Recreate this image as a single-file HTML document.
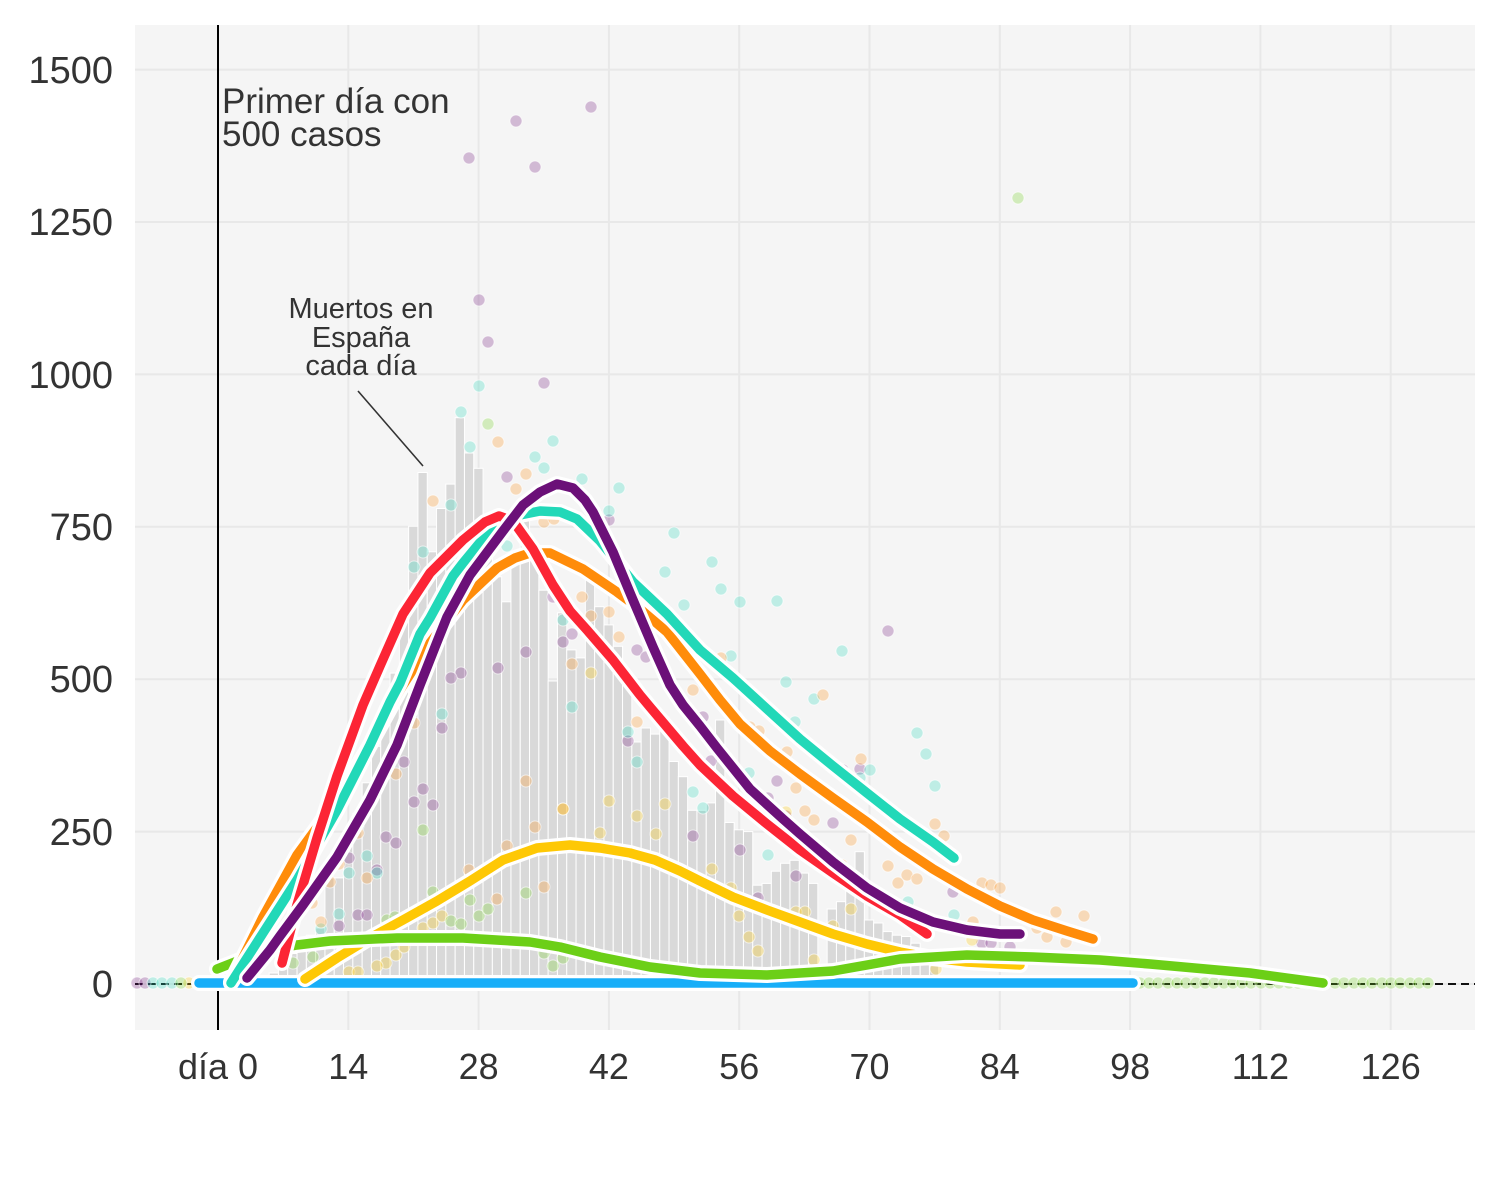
<!DOCTYPE html>
<html><head><meta charset="utf-8"><style>
html,body{margin:0;padding:0;background:#fff;}
svg{display:block;}
text{font-family:"Liberation Sans",sans-serif;fill:#333;}
</style></head><body>
<svg width="1500" height="1200" viewBox="0 0 1500 1200" xmlns="http://www.w3.org/2000/svg">
<defs>
<polyline id="lb" points="199,983 1133,983"/>
<polyline id="ly" points="305,979 337,958 370,938 403,920 437,901 470,881 503,860 537,848 570,845 600,848 630,853 655,860 680,871 700,881 733,897 767,910 800,922 833,934 867,944 900,952 933,958 967,962 1020,965"/>
<polyline id="lg" points="217,969 263,951 297,945 330,941 397,938 463,938 530,942 560,947 600,957 650,967 700,973 767,975 833,971 867,965 900,959 967,955 1033,957 1100,960 1150,964 1250,973 1323,983"/>
<polyline id="lo" points="231,982 263,917 297,855 337,800 370,745 400,690 430,643 463,600 497,568 515,558 530,553 550,553 583,569 617,592 640,609 667,632 700,674 720,700 740,724 770,751 800,774 833,798 867,822 900,847 933,869 967,889 1000,906 1033,920 1067,931 1093,939"/>
<polyline id="lt" points="231,983 263,933 297,880 337,810 370,745 390,702 400,683 420,634 430,618 453,576 463,563 487,534 500,524 520,515 540,511 560,512 577,519 600,541 617,562 633,582 667,614 700,650 733,678 767,709 800,739 833,766 867,793 900,819 933,842 954,858"/>
<polyline id="lr" points="282,963 297,905 317,838 337,776 363,705 380,666 403,614 430,573 463,540 485,522 499,516 513,521 533,549 553,585 570,611 587,630 613,660 640,695 650,707 683,746 700,765 733,796 767,824 800,850 833,873 867,896 900,915 927,934"/>
<polyline id="lp" points="247,978 270,950 280,936 303,905 337,857 370,800 397,745 420,685 437,642 447,617 470,575 503,531 523,505 540,492 557,484 573,488 585,500 593,512 613,552 633,600 653,647 670,685 683,705 700,726 717,748 750,789 783,819 800,834 833,862 867,888 900,908 933,922 967,930 1000,934 1020,934"/>
</defs>
<rect width="1500" height="1200" fill="#fff"/>
<rect x="135" y="25" width="1340" height="1005" fill="#f5f5f5"/>
<g stroke="#e8e8e8" stroke-width="2">
<line x1="135" x2="1475" y1="69.6" y2="69.6"/><line x1="135" x2="1475" y1="222" y2="222"/><line x1="135" x2="1475" y1="374.4" y2="374.4"/><line x1="135" x2="1475" y1="526.8" y2="526.8"/><line x1="135" x2="1475" y1="679.2" y2="679.2"/><line x1="135" x2="1475" y1="831.6" y2="831.6"/><line x1="135" x2="1475" y1="984" y2="984"/>
<line y1="25" y2="1030" x1="348.3" x2="348.3"/><line y1="25" y2="1030" x1="478.6" x2="478.6"/><line y1="25" y2="1030" x1="608.9" x2="608.9"/><line y1="25" y2="1030" x1="739.2" x2="739.2"/><line y1="25" y2="1030" x1="869.5" x2="869.5"/><line y1="25" y2="1030" x1="999.8" x2="999.8"/><line y1="25" y2="1030" x1="1130.1" x2="1130.1"/><line y1="25" y2="1030" x1="1260.4" x2="1260.4"/><line y1="25" y2="1030" x1="1390.7" x2="1390.7"/>
</g>
<g fill="#d9d9d9" stroke="#fff" stroke-width="1">
<rect x="241.25" y="981" width="9.3" height="3"/>
<rect x="250.55" y="979.1" width="9.3" height="4.9"/>
<rect x="259.85" y="976.7" width="9.3" height="7.3"/>
<rect x="269.15" y="973" width="9.3" height="11"/>
<rect x="278.45" y="965.7" width="9.3" height="18.3"/>
<rect x="287.75" y="953.5" width="9.3" height="30.5"/>
<rect x="297.05" y="940.1" width="9.3" height="43.9"/>
<rect x="306.35" y="935.2" width="9.3" height="48.8"/>
<rect x="315.65" y="927.9" width="9.3" height="56.1"/>
<rect x="324.95" y="877.9" width="9.3" height="106.1"/>
<rect x="334.25" y="877.9" width="9.3" height="106.1"/>
<rect x="343.55" y="844.4" width="9.3" height="139.6"/>
<rect x="352.85" y="813.3" width="9.3" height="170.7"/>
<rect x="362.15" y="782.8" width="9.3" height="201.2"/>
<rect x="371.45" y="746.3" width="9.3" height="237.7"/>
<rect x="380.75" y="709.7" width="9.3" height="274.3"/>
<rect x="390.05" y="673.1" width="9.3" height="310.9"/>
<rect x="399.35" y="618.2" width="9.3" height="365.8"/>
<rect x="408.65" y="526.2" width="9.3" height="457.8"/>
<rect x="417.95" y="472.5" width="9.3" height="511.5"/>
<rect x="427.25" y="551.8" width="9.3" height="432.2"/>
<rect x="436.55" y="508.5" width="9.3" height="475.5"/>
<rect x="445.85" y="484.1" width="9.3" height="499.9"/>
<rect x="455.15" y="417.7" width="9.3" height="566.3"/>
<rect x="464.45" y="453" width="9.3" height="531"/>
<rect x="473.75" y="468.3" width="9.3" height="515.7"/>
<rect x="483.05" y="551.8" width="9.3" height="432.2"/>
<rect x="492.35" y="576.8" width="9.3" height="407.2"/>
<rect x="501.65" y="601.8" width="9.3" height="382.2"/>
<rect x="510.95" y="557.3" width="9.3" height="426.7"/>
<rect x="520.25" y="520.1" width="9.3" height="463.9"/>
<rect x="529.55" y="545.1" width="9.3" height="438.9"/>
<rect x="538.85" y="590.2" width="9.3" height="393.8"/>
<rect x="548.15" y="681" width="9.3" height="303"/>
<rect x="557.45" y="612.8" width="9.3" height="371.2"/>
<rect x="566.75" y="649.9" width="9.3" height="334.1"/>
<rect x="576.05" y="657.9" width="9.3" height="326.1"/>
<rect x="585.35" y="568.9" width="9.3" height="415.1"/>
<rect x="594.65" y="606.7" width="9.3" height="377.3"/>
<rect x="603.95" y="624.9" width="9.3" height="359.1"/>
<rect x="613.25" y="646.3" width="9.3" height="337.7"/>
<rect x="622.55" y="679.2" width="9.3" height="304.8"/>
<rect x="631.85" y="742" width="9.3" height="242"/>
<rect x="641.15" y="728" width="9.3" height="256"/>
<rect x="650.45" y="734.1" width="9.3" height="249.9"/>
<rect x="659.75" y="717" width="9.3" height="267"/>
<rect x="669.05" y="761.5" width="9.3" height="222.5"/>
<rect x="678.35" y="776.7" width="9.3" height="207.3"/>
<rect x="687.65" y="810.3" width="9.3" height="173.7"/>
<rect x="696.95" y="810.3" width="9.3" height="173.7"/>
<rect x="706.25" y="802.9" width="9.3" height="181.1"/>
<rect x="715.55" y="720" width="9.3" height="264"/>
<rect x="724.85" y="822.5" width="9.3" height="161.5"/>
<rect x="734.15" y="829.8" width="9.3" height="154.2"/>
<rect x="743.45" y="831.6" width="9.3" height="152.4"/>
<rect x="752.75" y="885.2" width="9.3" height="98.8"/>
<rect x="762.05" y="883.4" width="9.3" height="100.6"/>
<rect x="771.35" y="871.2" width="9.3" height="112.8"/>
<rect x="780.65" y="863.3" width="9.3" height="120.7"/>
<rect x="789.95" y="860.3" width="9.3" height="123.7"/>
<rect x="799.25" y="873.1" width="9.3" height="110.9"/>
<rect x="808.55" y="883.4" width="9.3" height="100.6"/>
<rect x="817.85" y="971.8" width="9.3" height="12.2"/>
<rect x="827.15" y="909" width="9.3" height="75"/>
<rect x="836.45" y="901.7" width="9.3" height="82.3"/>
<rect x="845.75" y="873.1" width="9.3" height="110.9"/>
<rect x="855.05" y="851.7" width="9.3" height="132.3"/>
<rect x="864.35" y="920" width="9.3" height="64"/>
<rect x="873.65" y="923" width="9.3" height="61"/>
<rect x="882.95" y="931.6" width="9.3" height="52.4"/>
<rect x="892.25" y="935.2" width="9.3" height="48.8"/>
<rect x="901.55" y="936.5" width="9.3" height="47.5"/>
<rect x="910.85" y="943.2" width="9.3" height="40.8"/>
<rect x="920.15" y="950.5" width="9.3" height="33.5"/>
<rect x="929.45" y="965.7" width="9.3" height="18.3"/>
</g>
<line x1="135" x2="1475" y1="984" y2="984" stroke="#111" stroke-width="2" stroke-dasharray="8 5"/>
<line x1="218" x2="218" y1="25" y2="1030" stroke="#000" stroke-width="2"/>
<g stroke="#fff" stroke-width="1" stroke-opacity="0.6">
<g fill="#6b1078" fill-opacity="0.26">
<circle cx="591" cy="107" r="6"/><circle cx="516" cy="121" r="6"/><circle cx="535" cy="167" r="6"/><circle cx="469" cy="158" r="6"/><circle cx="479" cy="300" r="6"/><circle cx="488" cy="342" r="6"/><circle cx="544" cy="383" r="6"/><circle cx="507" cy="477" r="6"/><circle cx="609" cy="520" r="6"/><circle cx="553" cy="597" r="6"/><circle cx="563" cy="642" r="6"/><circle cx="572" cy="634" r="6"/><circle cx="526" cy="652" r="6"/><circle cx="498" cy="668" r="6"/><circle cx="461" cy="673" r="6"/><circle cx="451" cy="678" r="6"/><circle cx="637" cy="650" r="6"/><circle cx="646" cy="657" r="6"/><circle cx="628" cy="741" r="6"/><circle cx="703" cy="717" r="6"/><circle cx="711" cy="761" r="6"/><circle cx="768" cy="798" r="6"/><circle cx="777" cy="781" r="6"/><circle cx="786" cy="816" r="6"/><circle cx="805" cy="836" r="6"/><circle cx="833" cy="823" r="6"/><circle cx="843" cy="770" r="6"/><circle cx="860" cy="769" r="6"/><circle cx="693" cy="836" r="6"/><circle cx="740" cy="850" r="6"/><circle cx="796" cy="876" r="6"/><circle cx="758" cy="898" r="6"/><circle cx="953" cy="892" r="6"/><circle cx="982" cy="943" r="6"/><circle cx="991" cy="943" r="6"/><circle cx="1010" cy="947" r="6"/><circle cx="888" cy="631" r="6"/><circle cx="404" cy="762" r="6"/><circle cx="423" cy="789" r="6"/><circle cx="414" cy="802" r="6"/><circle cx="433" cy="805" r="6"/><circle cx="386" cy="837" r="6"/><circle cx="396" cy="843" r="6"/><circle cx="349" cy="858" r="6"/><circle cx="377" cy="870" r="6"/><circle cx="339" cy="926" r="6"/><circle cx="358" cy="915" r="6"/><circle cx="367" cy="915" r="6"/><circle cx="442" cy="728" r="6"/><circle cx="137" cy="983" r="6"/><circle cx="145" cy="983" r="6"/>
</g>
<g fill="#22d8b8" fill-opacity="0.26">
<circle cx="461" cy="412" r="6"/><circle cx="470" cy="447" r="6"/><circle cx="479" cy="386" r="6"/><circle cx="553" cy="441" r="6"/><circle cx="535" cy="457" r="6"/><circle cx="544" cy="468" r="6"/><circle cx="582" cy="479" r="6"/><circle cx="619" cy="488" r="6"/><circle cx="609" cy="511" r="6"/><circle cx="507" cy="546" r="6"/><circle cx="674" cy="533" r="6"/><circle cx="665" cy="572" r="6"/><circle cx="712" cy="562" r="6"/><circle cx="721" cy="589" r="6"/><circle cx="684" cy="605" r="6"/><circle cx="740" cy="602" r="6"/><circle cx="777" cy="601" r="6"/><circle cx="563" cy="620" r="6"/><circle cx="786" cy="682" r="6"/><circle cx="731" cy="656" r="6"/><circle cx="842" cy="651" r="6"/><circle cx="814" cy="699" r="6"/><circle cx="795" cy="722" r="6"/><circle cx="572" cy="707" r="6"/><circle cx="628" cy="732" r="6"/><circle cx="637" cy="762" r="6"/><circle cx="749" cy="773" r="6"/><circle cx="693" cy="792" r="6"/><circle cx="703" cy="808" r="6"/><circle cx="860" cy="778" r="6"/><circle cx="870" cy="770" r="6"/><circle cx="917" cy="733" r="6"/><circle cx="926" cy="754" r="6"/><circle cx="935" cy="786" r="6"/><circle cx="908" cy="902" r="6"/><circle cx="954" cy="915" r="6"/><circle cx="768" cy="855" r="6"/><circle cx="451" cy="505" r="6"/><circle cx="423" cy="552" r="6"/><circle cx="414" cy="567" r="6"/><circle cx="442" cy="714" r="6"/><circle cx="358" cy="826" r="6"/><circle cx="367" cy="856" r="6"/><circle cx="349" cy="873" r="6"/><circle cx="377" cy="873" r="6"/><circle cx="339" cy="914" r="6"/><circle cx="321" cy="929" r="6"/><circle cx="153" cy="983" r="6"/><circle cx="162" cy="983" r="6"/><circle cx="172" cy="983" r="6"/>
</g>
<g fill="#ff8c0a" fill-opacity="0.26">
<circle cx="498" cy="442" r="6"/><circle cx="433" cy="501" r="6"/><circle cx="526" cy="474" r="6"/><circle cx="516" cy="489" r="6"/><circle cx="544" cy="522" r="6"/><circle cx="554" cy="519" r="6"/><circle cx="582" cy="597" r="6"/><circle cx="591" cy="616" r="6"/><circle cx="609" cy="612" r="6"/><circle cx="619" cy="637" r="6"/><circle cx="683" cy="633" r="6"/><circle cx="721" cy="658" r="6"/><circle cx="572" cy="664" r="6"/><circle cx="693" cy="690" r="6"/><circle cx="637" cy="722" r="6"/><circle cx="750" cy="727" r="6"/><circle cx="759" cy="731" r="6"/><circle cx="787" cy="752" r="6"/><circle cx="823" cy="695" r="6"/><circle cx="861" cy="759" r="6"/><circle cx="796" cy="788" r="6"/><circle cx="805" cy="811" r="6"/><circle cx="814" cy="820" r="6"/><circle cx="851" cy="840" r="6"/><circle cx="842" cy="865" r="6"/><circle cx="888" cy="866" r="6"/><circle cx="898" cy="883" r="6"/><circle cx="907" cy="875" r="6"/><circle cx="917" cy="879" r="6"/><circle cx="935" cy="824" r="6"/><circle cx="944" cy="836" r="6"/><circle cx="973" cy="922" r="6"/><circle cx="982" cy="883" r="6"/><circle cx="991" cy="885" r="6"/><circle cx="1000" cy="888" r="6"/><circle cx="1037" cy="928" r="6"/><circle cx="1047" cy="937" r="6"/><circle cx="1056" cy="912" r="6"/><circle cx="1066" cy="942" r="6"/><circle cx="1084" cy="916" r="6"/><circle cx="414" cy="723" r="6"/><circle cx="396" cy="774" r="6"/><circle cx="358" cy="833" r="6"/><circle cx="339" cy="864" r="6"/><circle cx="330" cy="882" r="6"/><circle cx="367" cy="878" r="6"/><circle cx="312" cy="903" r="6"/><circle cx="526" cy="781" r="6"/><circle cx="535" cy="827" r="6"/><circle cx="507" cy="846" r="6"/><circle cx="563" cy="809" r="6"/><circle cx="469" cy="870" r="6"/><circle cx="497" cy="899" r="6"/><circle cx="544" cy="887" r="6"/><circle cx="321" cy="922" r="6"/>
</g>
<g fill="#fec805" fill-opacity="0.28">
<circle cx="591" cy="673" r="6"/><circle cx="563" cy="809" r="6"/><circle cx="609" cy="801" r="6"/><circle cx="637" cy="816" r="6"/><circle cx="665" cy="804" r="6"/><circle cx="656" cy="834" r="6"/><circle cx="600" cy="833" r="6"/><circle cx="786" cy="812" r="6"/><circle cx="712" cy="869" r="6"/><circle cx="731" cy="888" r="6"/><circle cx="739" cy="916" r="6"/><circle cx="749" cy="937" r="6"/><circle cx="758" cy="951" r="6"/><circle cx="796" cy="912" r="6"/><circle cx="805" cy="912" r="6"/><circle cx="814" cy="960" r="6"/><circle cx="833" cy="926" r="6"/><circle cx="851" cy="909" r="6"/><circle cx="972" cy="940" r="6"/><circle cx="936" cy="969" r="6"/><circle cx="423" cy="928" r="6"/><circle cx="433" cy="923" r="6"/><circle cx="442" cy="916" r="6"/><circle cx="396" cy="955" r="6"/><circle cx="386" cy="963" r="6"/><circle cx="377" cy="966" r="6"/><circle cx="349" cy="972" r="6"/><circle cx="358" cy="972" r="6"/><circle cx="404" cy="947" r="6"/><circle cx="189" cy="983" r="6"/>
</g>
<g fill="#6ccf17" fill-opacity="0.26">
<circle cx="488" cy="424" r="6"/><circle cx="1018" cy="198" r="6"/><circle cx="423" cy="830" r="6"/><circle cx="433" cy="892" r="6"/><circle cx="470" cy="900" r="6"/><circle cx="479" cy="916" r="6"/><circle cx="488" cy="909" r="6"/><circle cx="451" cy="921" r="6"/><circle cx="461" cy="924" r="6"/><circle cx="526" cy="893" r="6"/><circle cx="544" cy="953" r="6"/><circle cx="553" cy="966" r="6"/><circle cx="563" cy="958" r="6"/><circle cx="387" cy="920" r="6"/><circle cx="395" cy="917" r="6"/><circle cx="293" cy="963" r="6"/><circle cx="313" cy="957" r="6"/><circle cx="181" cy="983" r="6"/>
<circle cx="1140" cy="983" r="6"/><circle cx="1149" cy="983" r="6"/><circle cx="1158" cy="983" r="6"/><circle cx="1168" cy="983" r="6"/><circle cx="1177" cy="983" r="6"/><circle cx="1186" cy="983" r="6"/><circle cx="1196" cy="983" r="6"/><circle cx="1205" cy="983" r="6"/><circle cx="1214" cy="983" r="6"/><circle cx="1224" cy="983" r="6"/><circle cx="1233" cy="983" r="6"/><circle cx="1242" cy="983" r="6"/><circle cx="1251" cy="983" r="6"/><circle cx="1261" cy="983" r="6"/><circle cx="1270" cy="983" r="6"/><circle cx="1279" cy="983" r="6"/><circle cx="1289" cy="983" r="6"/><circle cx="1298" cy="983" r="6"/><circle cx="1307" cy="983" r="6"/><circle cx="1317" cy="983" r="6"/><circle cx="1335" cy="983" r="6"/><circle cx="1344" cy="983" r="6"/><circle cx="1354" cy="983" r="6"/><circle cx="1363" cy="983" r="6"/><circle cx="1372" cy="983" r="6"/><circle cx="1382" cy="983" r="6"/><circle cx="1391" cy="983" r="6"/><circle cx="1400" cy="983" r="6"/><circle cx="1410" cy="983" r="6"/><circle cx="1419" cy="983" r="6"/><circle cx="1428" cy="983" r="6"/>
</g>
</g>
<g fill="none" stroke-linecap="round" stroke-linejoin="round">
<use href="#lb" stroke="#fff" stroke-width="16"/><use href="#lb" stroke="#18aef8" stroke-width="9.5"/>
<use href="#ly" stroke="#fff" stroke-width="16"/><use href="#ly" stroke="#fec805" stroke-width="9.5"/>
<use href="#lg" stroke="#fff" stroke-width="16"/><use href="#lg" stroke="#6ccf17" stroke-width="9.5"/>
<use href="#lo" stroke="#fff" stroke-width="16"/><use href="#lo" stroke="#ff8c0a" stroke-width="9.5"/>
<use href="#lt" stroke="#fff" stroke-width="16"/><use href="#lt" stroke="#22d8b8" stroke-width="9.5"/>
<use href="#lr" stroke="#fff" stroke-width="16"/><use href="#lr" stroke="#fc2535" stroke-width="9.5"/>
<use href="#lp" stroke="#fff" stroke-width="16"/><use href="#lp" stroke="#6b1078" stroke-width="9.5"/>
</g>
<line x1="358" y1="391" x2="423" y2="466" stroke="#333" stroke-width="1.6"/>
<text x="222" y="113" font-size="35">Primer día con</text>
<text x="222" y="146" font-size="35">500 casos</text>
<text x="361" y="318" font-size="29" text-anchor="middle">Muertos en</text>
<text x="361" y="347" font-size="29" text-anchor="middle">España</text>
<text x="361" y="375" font-size="29" text-anchor="middle">cada día</text>
<g font-size="38" text-anchor="end">
<text x="113" y="83">1500</text>
<text x="113" y="235">1250</text>
<text x="113" y="388">1000</text>
<text x="113" y="540">750</text>
<text x="113" y="692">500</text>
<text x="113" y="845">250</text>
<text x="113" y="997">0</text>
</g>
<g font-size="36" text-anchor="middle">
<text x="218" y="1079">día 0</text>
<text x="348.3" y="1079">14</text>
<text x="478.6" y="1079">28</text>
<text x="608.9" y="1079">42</text>
<text x="739.2" y="1079">56</text>
<text x="869.5" y="1079">70</text>
<text x="999.8" y="1079">84</text>
<text x="1130.1" y="1079">98</text>
<text x="1260.4" y="1079">112</text>
<text x="1390.7" y="1079">126</text>
</g>
</svg>
</body></html>
